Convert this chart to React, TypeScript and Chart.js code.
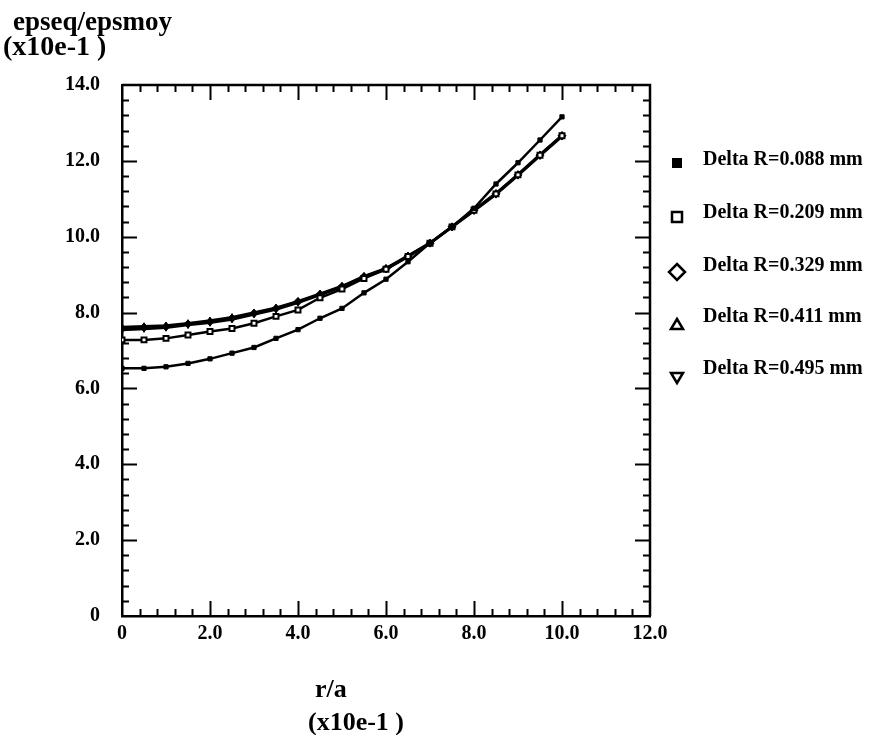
import React, { useEffect, useRef } from 'react';
import { Chart, registerables } from 'chart.js';

Chart.register(...registerables);

// ---- data ----
const rValues = [0, 0.5, 1.0, 1.5, 2.0, 2.5, 3.0, 3.5, 4.0, 4.5, 5.0, 5.5, 6.0, 6.5, 7.0, 7.5, 8.0, 8.5, 9.0, 9.5, 10.0];

const deltaR088 = [6.53, 6.53, 6.57, 6.66, 6.78, 6.93, 7.08, 7.32, 7.55, 7.85, 8.11, 8.52, 8.88, 9.34, 9.83, 10.26, 10.75, 11.39, 11.95, 12.55, 13.16];
const deltaR209 = [7.28, 7.28, 7.32, 7.41, 7.50, 7.58, 7.72, 7.90, 8.07, 8.39, 8.62, 8.90, 9.14, 9.48, 9.83, 10.26, 10.70, 11.13, 11.63, 12.15, 12.66];
const deltaR329 = [7.58, 7.61, 7.63, 7.70, 7.76, 7.85, 7.98, 8.11, 8.29, 8.48, 8.69, 8.95, 9.16, 9.49, 9.83, 10.26, 10.70, 11.13, 11.63, 12.15, 12.66];
const deltaR411 = [7.62, 7.64, 7.66, 7.72, 7.79, 7.88, 8.00, 8.13, 8.30, 8.50, 8.70, 8.96, 9.17, 9.50, 9.84, 10.27, 10.71, 11.15, 11.65, 12.17, 12.68];
const deltaR495 = [7.54, 7.57, 7.60, 7.67, 7.73, 7.82, 7.95, 8.08, 8.26, 8.46, 8.67, 8.93, 9.14, 9.47, 9.82, 10.25, 10.68, 11.11, 11.61, 12.13, 12.64];

const seriesLabels = ['Delta R=0.088 mm', 'Delta R=0.209 mm', 'Delta R=0.329 mm', 'Delta R=0.411 mm', 'Delta R=0.495 mm'];

const xTickLabels = ['0', '2.0', '4.0', '6.0', '8.0', '10.0', '12.0'];
const yTickLabels = ['0', '2.0', '4.0', '6.0', '8.0', '10.0', '12.0', '14.0'];

const xMin = 0, xMax = 12, yMin = 0, yMax = 14;
const majorStep = 2;
const minorStep = 0.4;

const yTitleLines = ['epseq/epsmoy', '(x10e-1 )'];
const xTitleLines = ['r/a', '(x10e-1 )'];

// ---- styles ----
const SERIF = '"Liberation Serif", "Times New Roman", Times, serif';

function toPoints(vals: number[]) {
  return vals.map((v, i) => ({ x: rValues[i], y: v }));
}

const framePlugin = {
  id: 'framePlugin',
  afterDraw(chart: any) {
    const ctx = chart.ctx as CanvasRenderingContext2D;
    const { left, right, top, bottom } = chart.chartArea;
    const xs = chart.scales.x;
    const ys = chart.scales.y;
    ctx.save();
    ctx.strokeStyle = '#000';
    ctx.fillStyle = '#000';
    // frame top/right
    ctx.lineWidth = 2.5;
    ctx.beginPath();
    ctx.moveTo(left, top);
    ctx.lineTo(right, top);
    ctx.lineTo(right, bottom);
    ctx.stroke();
    // inward ticks
    ctx.lineWidth = 2;
    const majorLen = 15, minorLen = 7;
    const nY = Math.round((yMax - yMin) / minorStep);
    for (let i = 1; i < nY; i++) {
      const v = yMin + i * minorStep;
      const isMajor = i % Math.round(majorStep / minorStep) === 0;
      const len = isMajor ? majorLen : minorLen;
      const py = Math.round(ys.getPixelForValue(v)) + 0.5;
      ctx.beginPath();
      ctx.moveTo(left, py); ctx.lineTo(left + len, py);
      ctx.moveTo(right, py); ctx.lineTo(right - len, py);
      ctx.stroke();
    }
    const nX = Math.round((xMax - xMin) / minorStep);
    for (let i = 1; i < nX; i++) {
      const v = xMin + i * minorStep;
      const isMajor = i % Math.round(majorStep / minorStep) === 0;
      const len = isMajor ? majorLen : minorLen;
      const px = Math.round(xs.getPixelForValue(v)) + 0.5;
      ctx.beginPath();
      ctx.moveTo(px, bottom); ctx.lineTo(px, bottom - len);
      ctx.moveTo(px, top); ctx.lineTo(px, top + len);
      ctx.stroke();
    }

    // axis titles
    ctx.textBaseline = 'middle';
    ctx.textAlign = 'left';
    ctx.font = `bold 27px ${SERIF}`;
    ctx.fillText(yTitleLines[0], 13, 23);
    ctx.font = `bold 28px ${SERIF}`;
    ctx.fillText(yTitleLines[1], 3, 48);
    ctx.font = `bold 26px ${SERIF}`;
    ctx.fillText(xTitleLines[0], 315, 690);
    ctx.fillText(xTitleLines[1], 308, 723);

    // legend
    const mx = 677;
    const markerY = [163, 217, 272, 324, 378];
    const textY = [160, 213, 266, 317, 369];
    ctx.font = `bold 20px ${SERIF}`;
    for (let i = 0; i < seriesLabels.length; i++) {
      const cy = markerY[i];
      ctx.lineWidth = 2.5;
      ctx.beginPath();
      if (i === 0) {
        ctx.fillRect(mx - 5, cy - 5, 10, 10);
      } else if (i === 1) {
        ctx.strokeRect(mx - 5, cy - 5, 10, 10);
      } else if (i === 2) {
        ctx.moveTo(mx, cy - 8); ctx.lineTo(mx + 8, cy); ctx.lineTo(mx, cy + 8); ctx.lineTo(mx - 8, cy); ctx.closePath();
        ctx.stroke();
      } else if (i === 3) {
        ctx.moveTo(mx, cy - 5); ctx.lineTo(mx + 6, cy + 5); ctx.lineTo(mx - 6, cy + 5); ctx.closePath();
        ctx.stroke();
      } else {
        ctx.moveTo(mx - 6, cy - 5); ctx.lineTo(mx + 6, cy - 5); ctx.lineTo(mx, cy + 5); ctx.closePath();
        ctx.stroke();
      }
      ctx.fillText(seriesLabels[i], 703, textY[i]);
    }
    ctx.restore();
  },
};

export default function App() {
  const canvasRef = useRef<HTMLCanvasElement | null>(null);

  useEffect(() => {
    const canvas = canvasRef.current;
    if (!canvas) return;
    const tickFont = { family: SERIF, size: 20, weight: 'bold' as const };
    const common = {
      borderColor: '#000',
      backgroundColor: '#000',
      borderWidth: 2.5,
      tension: 0,
      fill: false,
      pointBorderColor: '#000',
    };
    const chart = new Chart(canvas, {
      type: 'line',
      data: {
        datasets: [
          { ...common, label: seriesLabels[0], data: toPoints(deltaR088), pointStyle: 'rect', pointRadius: 3, pointBackgroundColor: '#000', pointBorderWidth: 1 },
          { ...common, label: seriesLabels[1], data: toPoints(deltaR209), pointStyle: 'rect', pointRadius: 3.5, pointBackgroundColor: '#fff', pointBorderWidth: 2 },
          { ...common, label: seriesLabels[2], data: toPoints(deltaR329), pointStyle: 'rectRot', pointRadius: 4, pointBackgroundColor: '#000', pointBorderWidth: 1 },
          { ...common, label: seriesLabels[3], data: toPoints(deltaR411), pointStyle: 'triangle', pointRadius: 3.5, pointBackgroundColor: '#000', pointBorderWidth: 1 },
          { ...common, label: seriesLabels[4], data: toPoints(deltaR495), pointStyle: 'triangle', rotation: 180, pointRadius: 3.5, pointBackgroundColor: '#000', pointBorderWidth: 1 },
        ] as any,
      },
      options: {
        animation: false,
        responsive: false,
        maintainAspectRatio: false,
        layout: { padding: { top: 85, right: 222, bottom: 0, left: 0 } },
        plugins: {
          legend: { display: false },
          tooltip: { enabled: false },
        },
        scales: {
          x: {
            type: 'linear',
            min: xMin,
            max: xMax,
            afterFit: (s: any) => { s.height = 119; },
            grid: { display: false, drawTicks: false },
            border: { display: true, color: '#000', width: 2.5 },
            ticks: {
              stepSize: majorStep,
              padding: 6,
              color: '#000',
              font: tickFont,
              maxRotation: 0,
              autoSkip: false,
              callback: (v: any) => {
                const idx = Math.round((Number(v) - xMin) / majorStep);
                return xTickLabels[idx] ?? '';
              },
            },
          },
          y: {
            type: 'linear',
            min: yMin,
            max: yMax,
            afterFit: (s: any) => { s.width = 122; },
            grid: { display: false, drawTicks: false },
            border: { display: true, color: '#000', width: 2.5 },
            ticks: {
              stepSize: majorStep,
              padding: 22,
              color: '#000',
              font: tickFont,
              autoSkip: false,
              callback: (v: any) => {
                const idx = Math.round((Number(v) - yMin) / majorStep);
                return yTickLabels[idx] ?? '';
              },
            },
          },
        },
      } as any,
      plugins: [framePlugin],
    });
    return () => chart.destroy();
  }, []);

  return (
    <div style={{ position: 'absolute', left: 0, top: 0, width: 872, height: 735, background: '#fff' }}>
      <canvas ref={canvasRef} width={872} height={735} style={{ display: 'block', width: 872, height: 735 }} />
    </div>
  );
}
